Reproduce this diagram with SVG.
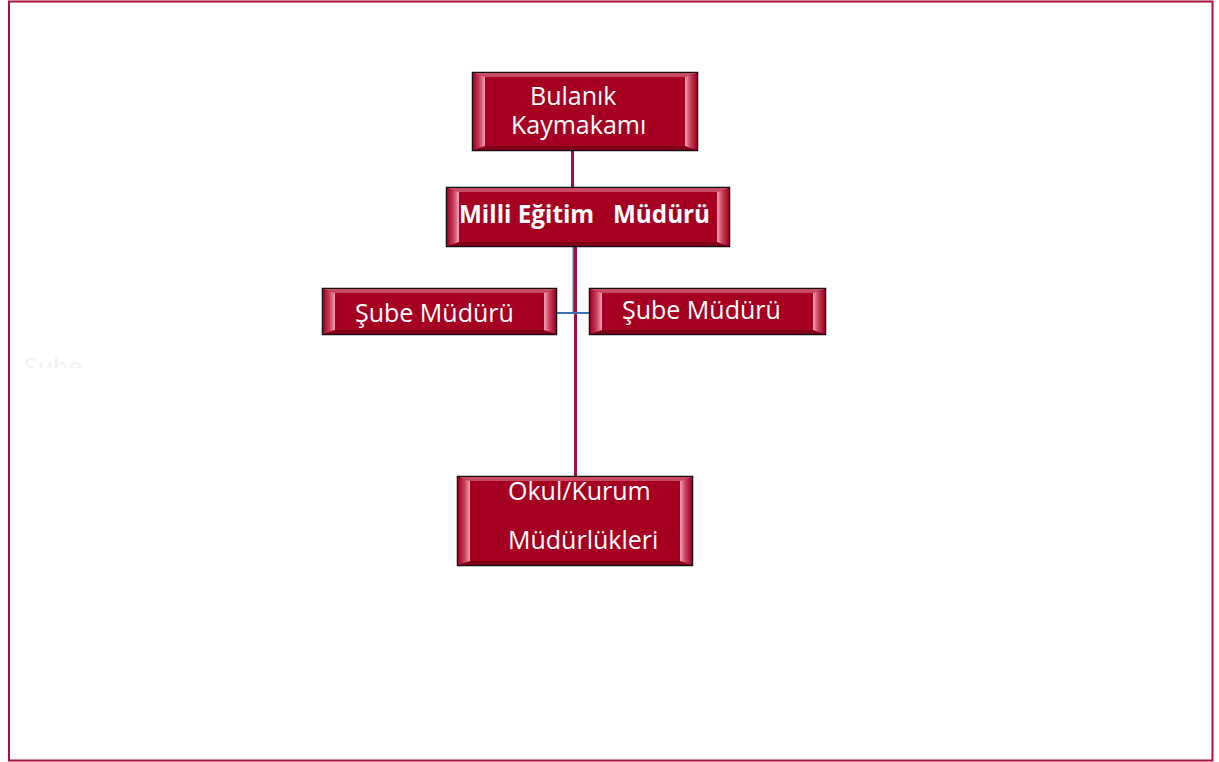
<svg xmlns="http://www.w3.org/2000/svg" width="1219" height="762" viewBox="0 0 1219 762">
<defs>
<linearGradient id="bl" x1="0" y1="0" x2="1" y2="0"><stop offset="0" stop-color="#9e0022"/><stop offset="0.55" stop-color="#c8405c"/><stop offset="1" stop-color="#f4a3b3"/></linearGradient>
<linearGradient id="br" x1="0" y1="0" x2="1" y2="0"><stop offset="0" stop-color="#f4a3b3"/><stop offset="0.45" stop-color="#c8405c"/><stop offset="1" stop-color="#9e0022"/></linearGradient>
<clipPath id="faint"><rect x="0" y="340" width="200" height="28"/></clipPath>
</defs>
<style>
.bx{fill:#a50021;stroke:#111;stroke-width:1.5}
.top{fill:#c94a63}
.bot{fill:#7e0018}
.t{fill:#fff;font-family:"Open Sans","Liberation Sans",sans-serif;font-size:25px;white-space:pre}
.b{font-weight:bold}
.cr{stroke:#a0103c;stroke-width:3;fill:none}
.bl{stroke:#3d72b4;stroke-width:2;fill:none}
</style>
<rect x="9" y="1.5" width="1203.5" height="759" fill="none" stroke="#a8103a" stroke-width="2"/>
<text x="24" y="376" clip-path="url(#faint)" font-family="'Open Sans','Liberation Sans',sans-serif" font-size="25" fill="#f2f2f2">Şube</text>
<g id="connectors">
<line class="cr" x1="572.5" y1="151" x2="572.5" y2="187"/>
<line class="bl" x1="573.5" y1="247" x2="573.5" y2="313" stroke-width="1.5"/>
<line class="cr" x1="575.5" y1="247" x2="575.5" y2="476"/>
<line class="bl" x1="557" y1="313" x2="589" y2="313"/>
</g>
<g id="n1">
<rect class="bx" x="472.5" y="72.5" width="225" height="78"/>
<polygon class="top" points="473,73 697,73 685,77 485,77"/>
<polygon class="bot" points="473,150 697,150 685,146 485,146"/>
<polygon fill="url(#bl)" points="473,73 485,77 485,146 473,150"/>
<polygon fill="url(#br)" points="685,77 697,73 697,150 685,146"/>
<text class="t" x="530" y="105">Bulanık</text>
<text class="t" x="511" y="134">Kaymakamı</text>
</g>
<g id="n2">
<rect class="bx" x="446.5" y="187.5" width="283" height="59"/>
<polygon class="top" points="447,188 729,188 717,192 459,192"/>
<polygon class="bot" points="447,246 729,246 717,242 459,242"/>
<polygon fill="url(#bl)" points="447,188 459,192 459,242 447,246"/>
<polygon fill="url(#br)" points="717,192 729,188 729,246 717,242"/>
<text class="t b" x="459" y="223" font-size="24" textLength="251" lengthAdjust="spacingAndGlyphs" xml:space="preserve">Milli Eğitim   Müdürü</text>
</g>
<g id="n3">
<rect class="bx" x="322.5" y="288.5" width="234" height="46"/>
<polygon class="top" points="323,289 556,289 544,293 335,293"/>
<polygon class="bot" points="323,334 556,334 544,330 335,330"/>
<polygon fill="url(#bl)" points="323,289 335,293 335,330 323,334"/>
<polygon fill="url(#br)" points="544,293 556,289 556,334 544,330"/>
<text class="t" x="355" y="322">Şube Müdürü</text>
</g>
<g id="n4">
<rect class="bx" x="589.5" y="288.5" width="236" height="46"/>
<polygon class="top" points="590,289 825,289 813,293 602,293"/>
<polygon class="bot" points="590,334 825,334 813,330 602,330"/>
<polygon fill="url(#bl)" points="590,289 602,293 602,330 590,334"/>
<polygon fill="url(#br)" points="813,293 825,289 825,334 813,330"/>
<text class="t" x="622" y="319">Şube Müdürü</text>
</g>
<g id="n5">
<rect class="bx" x="457.5" y="476.5" width="235" height="89"/>
<polygon class="top" points="458,477 692,477 680,481 470,481"/>
<polygon class="bot" points="458,565 692,565 680,561 470,561"/>
<polygon fill="url(#bl)" points="458,477 470,481 470,561 458,565"/>
<polygon fill="url(#br)" points="680,481 692,477 692,565 680,561"/>
<text class="t" x="508" y="500">Okul/Kurum</text>
<text class="t" x="508" y="549">Müdürlükleri</text>
</g>
</svg>
